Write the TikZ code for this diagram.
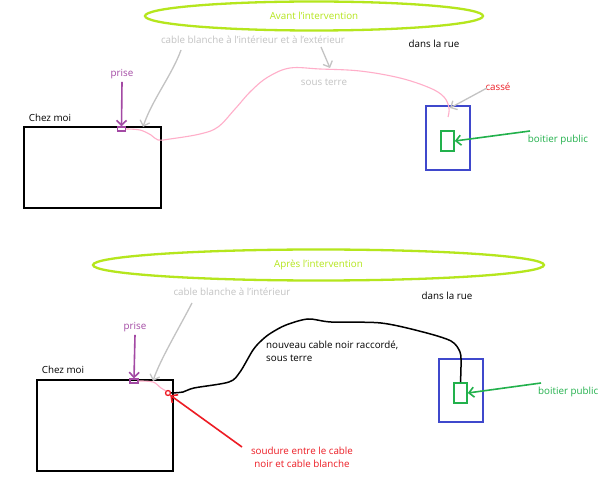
\documentclass[tikz,border=0pt]{standalone}
\usepackage{fontspec}
\setmainfont{Open Sans}
\usetikzlibrary{arrows.meta,shapes.geometric}
\definecolor{lime}{HTML}{B5E61D}
\definecolor{gry}{HTML}{C3C3C3}
\definecolor{purp}{HTML}{A349A4}
\definecolor{pnk}{HTML}{FFAEC9}
\definecolor{rd}{HTML}{ED1C24}
\definecolor{grn}{HTML}{22B14C}
\definecolor{blu}{HTML}{3F48CC}
\begin{document}
\begin{tikzpicture}[x=1pt,y=-1pt,
  lbl/.style={font=\fontsize{9.8}{13}\selectfont, inner sep=0pt},
  barb/.style={-{Straight Barb[length=5pt,width=10pt]}},
  oval/.style={draw=lime, line width=2.3pt, ellipse, inner sep=0pt, text=lime, font=\fontsize{9.8}{13}\selectfont},
  house/.style={draw=black, line width=1.8pt, inner sep=0pt},
  bluebox/.style={draw=blu, line width=1.8pt, inner sep=0pt, minimum width=44pt, minimum height=63pt},
  greenbox/.style={draw=grn, line width=1.6pt, inner sep=0pt, minimum width=13pt, minimum height=20pt},
  prisebox/.style={draw=purp, line width=1.2pt, inner sep=0pt, minimum width=8pt, minimum height=4pt},
  greyarrow/.style={draw=gry, line width=1.3pt, barb},
]
\useasboundingbox (0,0) rectangle (600,478);
\fill[white] (0,0) rectangle (600,478);

% ---------- top: avant ----------
\node[oval, minimum width=338pt, minimum height=29pt] (e1) at (314,16) {Avant l'intervention};
\node[lbl, text=gry] (t1) at (253,40) {cable blanche à l'intérieur et à l'extérieur};
\node[lbl] (rue1) at (434,44) {dans la rue};
\node[lbl, text=gry] (st1) at (324,82) {sous terre};
\node[lbl, text=purp] (pr1) at (122,74) {prise};
\node[lbl] (cm1) at (50,118) {Chez moi};
\node[lbl, text=rd] (ca1) at (498,87) {cassé};
\node[lbl, text=grn] (bp1) at (558,140) {boitier public};

\node[house, minimum width=137pt, minimum height=81pt] (h1) at (92.5,167.5) {};
\node[prisebox] (p1) at (121.5,129) {};
\node[bluebox, minimum height=64pt] (b1) at (448,138) {};
\node[greenbox] (g1) at (447.5,141) {};

\coordinate (g1s) at (181,50);
\coordinate (g1e) at (143,127);
\coordinate (st1s) at (321,47);
\coordinate (st1e) at (330,68);
\coordinate (ca1s) at (487,88);
\coordinate (ca1e) at (450,108);
\coordinate (bp1s) at (530,131);
\coordinate (pk1e) at (448,117);

\draw[pnk, line width=1.1pt] plot[smooth, tension=0.6] coordinates {(p1.east) (140,130) (151,135) (158,140) (170,139) (200,134) (218,127) (235,109) (251,91) (268,77) (290,68) (320,69) (360,71) (400,78) (430,88) (444,97) (449,108) (pk1e)};
\draw[greyarrow] (g1s) .. controls (172,75) and (152,100) .. (g1e);
\draw[greyarrow] (st1s) -- (st1e);
\draw[greyarrow] (ca1s) -- (ca1e);
\draw[draw=purp, line width=1.6pt, barb] (pr1.south) ++(0,3) -- (p1.north);
\draw[draw=grn, line width=1.6pt, barb] (bp1s) -- (g1.east);

% ---------- bottom: apres ----------
\node[oval, minimum width=451pt, minimum height=31pt] (e2) at (318.5,265) {Après l'intervention};
\node[lbl, text=gry] (t2) at (232,292) {cable blanche à l'intérieur};
\node[lbl] (rue2) at (447,296) {dans la rue};
\node[lbl, text=purp] (pr2) at (135,327) {prise};
\node[lbl] (cm2) at (63,370) {Chez moi};
\node[lbl, anchor=west, align=left] (nc) at (266,351) {nouveau cable noir raccordé,\\sous terre};
\node[lbl, anchor=west, text=grn] (bp2) at (538,392) {boitier public};
\node[lbl, text=rd, align=center] (sd) at (302,457) {soudure entre le cable\\noir et cable blanche};

\node[house, minimum width=136pt, minimum height=91pt] (h2) at (105,425.5) {};
\node[prisebox] (p2) at (134,381) {};
\node[bluebox] (b2) at (461,390.5) {};
\node[greenbox] (g2) at (460.5,393) {};
\node[circle, draw=rd, line width=1.3pt, inner sep=0pt, minimum size=5pt] (sol) at (168,393) {};

\coordinate (g2s) at (192,303);
\coordinate (g2e) at (153,381);
\coordinate (bp2s) at (541,383);
\coordinate (sds) at (242,447);

\draw[pnk, line width=1.1pt] plot[smooth, tension=0.6] coordinates {(p2.east) (153,382) (161,388) (sol.north west)};
\draw[greyarrow] (g2s) .. controls (178,330) and (160,360) .. (g2e);
\draw[black, line width=1.5pt] plot[smooth, tension=0.5] coordinates {(sol.east) (183,392) (194,388) (229,382) (240,372) (253,350) (262,340) (271,333) (286,325) (308,319) (331,322) (381,323) (423,332) (451,341) (460,352) (461,365) (g2.north)};
\draw[draw=purp, line width=1.6pt, barb] (pr2.south) ++(0,3) -- (p2.north);
\draw[draw=grn, line width=1.6pt, barb] (bp2s) -- (g2.east);
\draw[draw=rd, line width=1.6pt, barb] (sds) -- (sol.south east);
\end{tikzpicture}
\end{document}
